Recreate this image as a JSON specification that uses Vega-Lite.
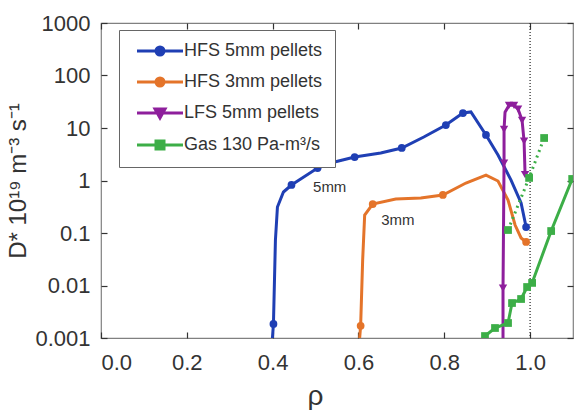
{
  "$schema": "https://vega.github.io/schema/vega-lite/v6.json",
  "width": 472,
  "height": 315,
  "autosize": {"type": "none"},
  "padding": {"left": 101, "top": 23, "right": 3, "bottom": 72},
  "background": "white",
  "config": {
    "font": "Liberation Sans",
    "view": {"stroke": "#808080", "strokeWidth": 1.2},
    "axis": {
      "grid": false,
      "domain": false,
      "tickColor": "#333333",
      "tickSize": -6,
      "tickWidth": 1.2,
      "labelFont": "Liberation Sans",
      "labelFontSize": 22,
      "labelColor": "#333333",
      "titleFont": "Liberation Sans",
      "titleColor": "#333333",
      "titleFontWeight": "normal"
    }
  },
  "resolve": {"axis": {"x": "independent", "y": "independent"}},
  "datasets": {
    "curves": [
      {"i": 1, "s": "HFS 5mm pellets", "seg": "solid", "pt": 0, "x": 0.3995, "y": 0.001},
      {"i": 2, "s": "HFS 5mm pellets", "seg": "solid", "pt": 1, "x": 0.4019, "y": 0.00185},
      {"i": 3, "s": "HFS 5mm pellets", "seg": "solid", "pt": 0, "x": 0.4065, "y": 0.0736},
      {"i": 4, "s": "HFS 5mm pellets", "seg": "solid", "pt": 0, "x": 0.4112, "y": 0.313},
      {"i": 5, "s": "HFS 5mm pellets", "seg": "solid", "pt": 0, "x": 0.4252, "y": 0.604},
      {"i": 6, "s": "HFS 5mm pellets", "seg": "solid", "pt": 1, "x": 0.4439, "y": 0.821},
      {"i": 7, "s": "HFS 5mm pellets", "seg": "solid", "pt": 1, "x": 0.5047, "y": 1.73},
      {"i": 8, "s": "HFS 5mm pellets", "seg": "solid", "pt": 0, "x": 0.535, "y": 2.15},
      {"i": 9, "s": "HFS 5mm pellets", "seg": "solid", "pt": 1, "x": 0.5911, "y": 2.8},
      {"i": 10, "s": "HFS 5mm pellets", "seg": "solid", "pt": 0, "x": 0.6519, "y": 3.34},
      {"i": 11, "s": "HFS 5mm pellets", "seg": "solid", "pt": 1, "x": 0.7009, "y": 4.16},
      {"i": 12, "s": "HFS 5mm pellets", "seg": "solid", "pt": 0, "x": 0.7523, "y": 6.74},
      {"i": 13, "s": "HFS 5mm pellets", "seg": "solid", "pt": 1, "x": 0.8037, "y": 11.4},
      {"i": 14, "s": "HFS 5mm pellets", "seg": "solid", "pt": 1, "x": 0.8435, "y": 19.3},
      {"i": 15, "s": "HFS 5mm pellets", "seg": "solid", "pt": 0, "x": 0.8621, "y": 20.2},
      {"i": 16, "s": "HFS 5mm pellets", "seg": "solid", "pt": 1, "x": 0.8972, "y": 7.36},
      {"i": 17, "s": "HFS 5mm pellets", "seg": "solid", "pt": 0, "x": 0.9252, "y": 3.06},
      {"i": 18, "s": "HFS 5mm pellets", "seg": "solid", "pt": 0, "x": 0.9556, "y": 1.02},
      {"i": 19, "s": "HFS 5mm pellets", "seg": "solid", "pt": 0, "x": 0.979, "y": 0.373},
      {"i": 20, "s": "HFS 5mm pellets", "seg": "solid", "pt": 1, "x": 0.9907, "y": 0.13},
      {"i": 21, "s": "HFS 3mm pellets", "seg": "solid", "pt": 0, "x": 0.6028, "y": 0.001},
      {"i": 22, "s": "HFS 3mm pellets", "seg": "solid", "pt": 1, "x": 0.6051, "y": 0.00171},
      {"i": 23, "s": "HFS 3mm pellets", "seg": "solid", "pt": 0, "x": 0.6098, "y": 0.0306},
      {"i": 24, "s": "HFS 3mm pellets", "seg": "solid", "pt": 0, "x": 0.6145, "y": 0.22},
      {"i": 25, "s": "HFS 3mm pellets", "seg": "solid", "pt": 1, "x": 0.6332, "y": 0.356},
      {"i": 26, "s": "HFS 3mm pellets", "seg": "solid", "pt": 0, "x": 0.6869, "y": 0.444},
      {"i": 27, "s": "HFS 3mm pellets", "seg": "solid", "pt": 0, "x": 0.7453, "y": 0.464},
      {"i": 28, "s": "HFS 3mm pellets", "seg": "solid", "pt": 1, "x": 0.7967, "y": 0.53},
      {"i": 29, "s": "HFS 3mm pellets", "seg": "solid", "pt": 0, "x": 0.8505, "y": 0.896},
      {"i": 30, "s": "HFS 3mm pellets", "seg": "solid", "pt": 0, "x": 0.8972, "y": 1.27},
      {"i": 31, "s": "HFS 3mm pellets", "seg": "solid", "pt": 0, "x": 0.9252, "y": 0.978},
      {"i": 32, "s": "HFS 3mm pellets", "seg": "solid", "pt": 0, "x": 0.9486, "y": 0.425},
      {"i": 33, "s": "HFS 3mm pellets", "seg": "solid", "pt": 0, "x": 0.965, "y": 0.142},
      {"i": 34, "s": "HFS 3mm pellets", "seg": "solid", "pt": 0, "x": 0.979, "y": 0.0803},
      {"i": 35, "s": "HFS 3mm pellets", "seg": "solid", "pt": 1, "x": 0.9907, "y": 0.0674},
      {"i": 36, "s": "LFS 5mm pellets", "seg": "solid", "pt": 0, "x": 0.9369, "y": 0.001},
      {"i": 37, "s": "LFS 5mm pellets", "seg": "solid", "pt": 1, "x": 0.9369, "y": 0.00896},
      {"i": 38, "s": "LFS 5mm pellets", "seg": "solid", "pt": 1, "x": 0.9393, "y": 2.15},
      {"i": 39, "s": "LFS 5mm pellets", "seg": "solid", "pt": 1, "x": 0.9393, "y": 9.4},
      {"i": 40, "s": "LFS 5mm pellets", "seg": "solid", "pt": 0, "x": 0.9416, "y": 20},
      {"i": 41, "s": "LFS 5mm pellets", "seg": "solid", "pt": 1, "x": 0.9509, "y": 27},
      {"i": 42, "s": "LFS 5mm pellets", "seg": "solid", "pt": 1, "x": 0.9626, "y": 27},
      {"i": 43, "s": "LFS 5mm pellets", "seg": "solid", "pt": 1, "x": 0.972, "y": 23},
      {"i": 44, "s": "LFS 5mm pellets", "seg": "solid", "pt": 1, "x": 0.9813, "y": 14},
      {"i": 45, "s": "LFS 5mm pellets", "seg": "solid", "pt": 1, "x": 0.986, "y": 5.6},
      {"i": 46, "s": "LFS 5mm pellets", "seg": "solid", "pt": 1, "x": 0.9883, "y": 1.3},
      {"i": 47, "s": "Gas 130 Pa-m³/s", "seg": "solid", "pt": 1, "x": 0.8949, "y": 0.00109},
      {"i": 48, "s": "Gas 130 Pa-m³/s", "seg": "solid", "pt": 1, "x": 0.9182, "y": 0.00155},
      {"i": 49, "s": "Gas 130 Pa-m³/s", "seg": "solid", "pt": 1, "x": 0.9486, "y": 0.00193},
      {"i": 50, "s": "Gas 130 Pa-m³/s", "seg": "solid", "pt": 1, "x": 0.9579, "y": 0.00464},
      {"i": 51, "s": "Gas 130 Pa-m³/s", "seg": "solid", "pt": 1, "x": 0.979, "y": 0.00553},
      {"i": 52, "s": "Gas 130 Pa-m³/s", "seg": "solid", "pt": 1, "x": 0.993, "y": 0.00936},
      {"i": 53, "s": "Gas 130 Pa-m³/s", "seg": "solid", "pt": 1, "x": 1.0047, "y": 0.0112},
      {"i": 54, "s": "Gas 130 Pa-m³/s", "seg": "solid", "pt": 1, "x": 1.0491, "y": 0.109},
      {"i": 55, "s": "Gas 130 Pa-m³/s", "seg": "solid", "pt": 1, "x": 1.0981, "y": 1.07},
      {"i": 56, "s": "Gas 130 Pa-m³/s", "seg": "dotted", "pt": 1, "x": 0.9486, "y": 0.114},
      {"i": 57, "s": "Gas 130 Pa-m³/s", "seg": "dotted", "pt": 1, "x": 0.9977, "y": 1.12},
      {"i": 58, "s": "Gas 130 Pa-m³/s", "seg": "dotted", "pt": 1, "x": 1.0327, "y": 6.45}
    ],
    "notes": [
      {"x": 0.533, "y": 0.75, "t": "5mm"},
      {"x": 0.692, "y": 0.177, "t": "3mm"}
    ],
    "edge": [{"x": 1.0}]
  },
  "layer": [
    {
      "data": {"name": "edge"},
      "mark": {"type": "rule", "color": "#222222", "strokeDash": [1, 2], "strokeWidth": 1.2},
      "encoding": {
        "x": {"field": "x", "type": "quantitative", "scale": {"domain": [0, 1.1], "nice": false, "zero": false}, "axis": null}
      }
    },
    {
      "data": {"name": "curves"},
      "transform": [{"filter": "datum.seg === 'solid'"}],
      "mark": {"type": "line", "strokeWidth": 3, "clip": true},
      "encoding": {
        "x": {
          "field": "x", "type": "quantitative",
          "scale": {"domain": [0, 1.1], "nice": false, "zero": false},
          "axis": {"orient": "bottom", "values": [0, 0.2, 0.4, 0.6, 0.8, 1.0], "format": ".1f", "labelPadding": 20, "title": "ρ", "titleFontSize": 28, "titlePadding": 9, "titleX": 214}
        },
        "y": {
          "field": "y", "type": "quantitative",
          "scale": {"type": "log", "domain": [0.001, 1000], "nice": false},
          "axis": {"orient": "left", "values": [0.001, 0.01, 0.1, 1, 10, 100, 1000], "format": "~g", "labelPadding": 17, "title": "D* 10¹⁹ m⁻³ s⁻¹", "titleFontSize": 24, "titlePadding": 4}
        },
        "order": {"field": "i", "type": "quantitative"},
        "color": {
          "field": "s", "type": "nominal",
          "scale": {
            "domain": ["HFS 5mm pellets", "HFS 3mm pellets", "LFS 5mm pellets", "Gas 130 Pa-m³/s"],
            "range": ["#1f3fb4", "#e4742a", "#8e1f9c", "#3cae47"]
          },
          "legend": {
            "orient": "none",
            "legendX": 18,
            "legendY": 7,
            "title": null,
            "direction": "vertical",
            "strokeColor": "#666666",
            "fillColor": "white",
            "padding": 12,
            "labelFont": "Liberation Sans",
            "labelFontSize": 18,
            "labelColor": "#333333",
            "labelLimit": 300,
            "symbolSize": 100,
            "symbolStrokeWidth": 3,
            "rowPadding": 11,
            "symbolOffset": 20,
            "labelOffset": 15,
            "encode": {
              "symbols": {
                "update": {
                  "shape": {"signal": "datum.value === 'LFS 5mm pellets' ? 'M-4.6,0H4.6M-1,-0.8H1L0,1Z' : (datum.value === 'HFS 5mm pellets' || datum.value === 'HFS 3mm pellets') ? 'M-4.6,0H4.6M0.8,0A0.8,0.8,0,1,1,-0.8,0A0.8,0.8,0,1,1,0.8,0Z' : 'M-4.6,0H4.6M-0.8,-0.8H0.8V0.8H-0.8Z'"},
                  "fill": {"scale": "color", "field": "value"},
                  "stroke": {"scale": "color", "field": "value"},
                  "strokeWidth": {"value": 3},
                  "opacity": {"value": 1}
                }
              }
            }
          }
        }
      }
    },
    {
      "data": {"name": "curves"},
      "transform": [{"filter": "datum.seg === 'dotted'"}],
      "mark": {"type": "line", "strokeWidth": 3, "strokeDash": [2, 4], "color": "#3cae47", "clip": true},
      "encoding": {
        "x": {"field": "x", "type": "quantitative", "scale": {"domain": [0, 1.1], "nice": false, "zero": false}, "axis": null},
        "y": {"field": "y", "type": "quantitative", "scale": {"type": "log", "domain": [0.001, 1000], "nice": false}, "axis": null},
        "order": {"field": "i", "type": "quantitative"}
      }
    },
    {
      "data": {"name": "curves"},
      "transform": [{"filter": "datum.pt === 1 && datum.s === 'HFS 5mm pellets'"}],
      "mark": {"type": "point", "shape": "circle", "filled": true, "opacity": 1, "size": 60, "color": "#1f3fb4", "clip": true},
      "encoding": {
        "x": {"field": "x", "type": "quantitative", "scale": {"domain": [0, 1.1], "nice": false, "zero": false}, "axis": null},
        "y": {"field": "y", "type": "quantitative", "scale": {"type": "log", "domain": [0.001, 1000], "nice": false}, "axis": null}
      }
    },
    {
      "data": {"name": "curves"},
      "transform": [{"filter": "datum.pt === 1 && datum.s === 'HFS 3mm pellets'"}],
      "mark": {"type": "point", "shape": "circle", "filled": true, "opacity": 1, "size": 60, "color": "#e4742a", "clip": true},
      "encoding": {
        "x": {"field": "x", "type": "quantitative", "scale": {"domain": [0, 1.1], "nice": false, "zero": false}, "axis": null},
        "y": {"field": "y", "type": "quantitative", "scale": {"type": "log", "domain": [0.001, 1000], "nice": false}, "axis": null}
      }
    },
    {
      "data": {"name": "curves"},
      "transform": [{"filter": "datum.pt === 1 && datum.s === 'LFS 5mm pellets'"}],
      "mark": {"type": "point", "shape": "triangle-down", "filled": true, "opacity": 1, "size": 70, "color": "#8e1f9c", "clip": true},
      "encoding": {
        "x": {"field": "x", "type": "quantitative", "scale": {"domain": [0, 1.1], "nice": false, "zero": false}, "axis": null},
        "y": {"field": "y", "type": "quantitative", "scale": {"type": "log", "domain": [0.001, 1000], "nice": false}, "axis": null}
      }
    },
    {
      "data": {"name": "curves"},
      "transform": [{"filter": "datum.pt === 1 && datum.s === 'Gas 130 Pa-m³/s'"}],
      "mark": {"type": "point", "shape": "square", "filled": true, "opacity": 1, "size": 60, "color": "#3cae47", "clip": true},
      "encoding": {
        "x": {"field": "x", "type": "quantitative", "scale": {"domain": [0, 1.1], "nice": false, "zero": false}, "axis": null},
        "y": {"field": "y", "type": "quantitative", "scale": {"type": "log", "domain": [0.001, 1000], "nice": false}, "axis": null}
      }
    },
    {
      "data": {"name": "notes"},
      "mark": {"type": "text", "font": "Liberation Sans", "fontSize": 15, "color": "#333333", "align": "center", "baseline": "middle"},
      "encoding": {
        "x": {"field": "x", "type": "quantitative", "scale": {"domain": [0, 1.1], "nice": false, "zero": false}, "axis": null},
        "y": {"field": "y", "type": "quantitative", "scale": {"type": "log", "domain": [0.001, 1000], "nice": false}, "axis": null},
        "text": {"field": "t", "type": "nominal"}
      }
    },
    {
      "data": {"name": "curves"},
      "mark": {"type": "point", "opacity": 0},
      "encoding": {
        "x": {"field": "x", "type": "quantitative", "scale": {"domain": [0, 1.1], "nice": false, "zero": false}, "axis": {"orient": "top", "values": [0, 0.2, 0.4, 0.6, 0.8, 1.0], "labels": false, "title": null}},
        "y": {"field": "y", "type": "quantitative", "scale": {"type": "log", "domain": [0.001, 1000], "nice": false}, "axis": {"orient": "right", "values": [0.001, 0.01, 0.1, 1, 10, 100, 1000], "labels": false, "title": null}}
      }
    }
  ]
}
